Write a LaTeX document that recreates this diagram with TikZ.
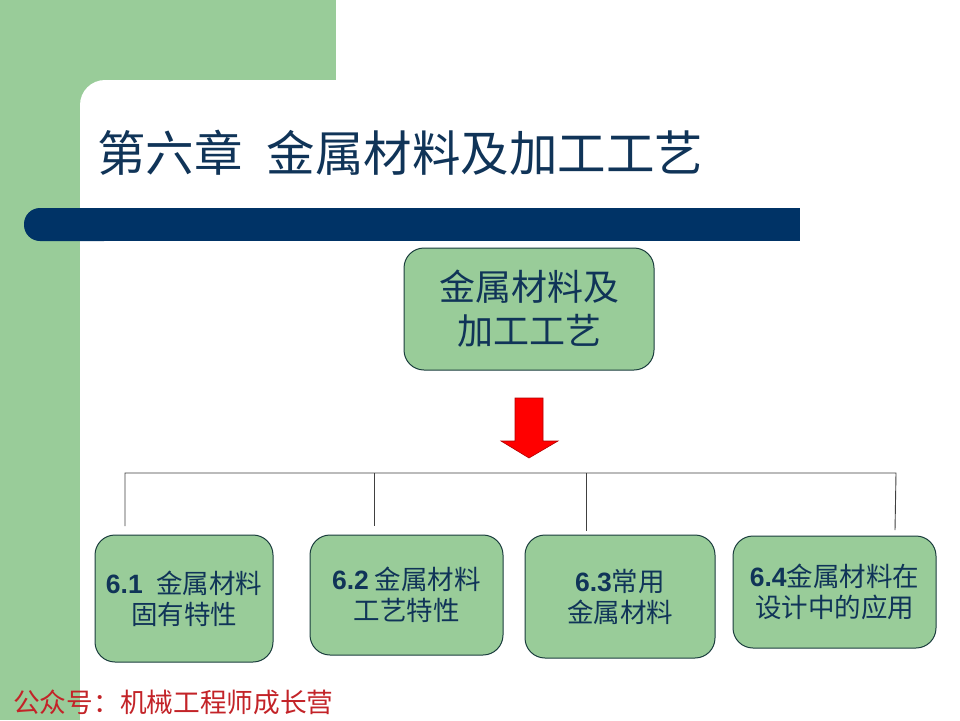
\documentclass[tikz,border=0pt]{standalone}
\usepackage{fontspec}
\setmainfont{Noto Sans CJK SC}
\newfontfamily\numfont{Liberation Sans}
\definecolor{bggreen}{RGB}{153,204,153}
\definecolor{boxgreen}{RGB}{153,204,153}
\definecolor{boxedge}{RGB}{26,61,61}
\definecolor{barblue}{RGB}{0,51,102}
\definecolor{txtblue}{RGB}{16,52,88}
\definecolor{footred}{RGB}{195,35,40}
\definecolor{arrowred}{RGB}{255,0,0}
\begin{document}
\begin{tikzpicture}[x=1pt,y=-1pt,
  gbox/.style={draw=boxedge,line width=1pt,fill=boxgreen,rounded corners=20pt,
    align=center,text=txtblue,inner sep=0pt,font=\fontsize{26.5}{31}\selectfont},
  busline/.style={draw=black!75,line width=0.9pt}]
\useasboundingbox (0,0) rectangle (960,720);
% background
\fill[bggreen] (0,0) rectangle (336,120);
\fill[bggreen] (0,0) rectangle (80,720);
\fill[white,rounded corners=25pt] (80,80) rectangle (1000,800);
\fill[white] (80,400) rectangle (960,720);
% blue bar
\fill[barblue,rounded corners=16pt] (24,208) rectangle (120,241);
\fill[barblue] (60,208) rectangle (800,241);
% title
\node[anchor=west,text=txtblue,inner sep=0pt,font=\fontsize{48.5}{52}\selectfont] (title) at (97,153)
  {第六章\hspace{0.5em}金属材料及加工工艺};
% top node
\node[gbox,minimum width=250pt,minimum height=122pt,font=\fontsize{36}{44}\selectfont] (top) at (529,309)
  {金属材料及\\加工工艺};
% red arrow
\fill[arrowred,draw=red!70!black,line width=0.6pt]
  (515,398) -- (543,398) -- (543,441) -- (558,441) -- (529,458) -- (501,441) -- (515,441) -- cycle;
% bottom boxes
\node[gbox,minimum width=178pt,minimum height=127pt] (b1) at (184,598.5)
  {{\numfont\bfseries 6.1}\hspace{0.5em}金属材料\\固有特性};
\node[gbox,minimum width=193pt,minimum height=120pt] (b2) at (406.5,595)
  {{\numfont\bfseries 6.2} 金属材料\\工艺特性};
\node[gbox,minimum width=190pt,minimum height=123pt] (b3) at (620,596.5)
  {{\numfont\bfseries 6.3}常用\\金属材料};
\node[gbox,minimum width=203pt,minimum height=112pt] (b4) at (834.5,592)
  {{\numfont\bfseries 6.4}金属材料在\\设计中的应用};
% bus
\coordinate (t1) at (125,473);
\coordinate (t2) at (374,473);
\coordinate (t3) at (586,473);
\coordinate (t4) at (896,473);
\coordinate (e1) at (125,526);
\coordinate (e2) at (374,526);
\coordinate (e3) at (586,531);
\coordinate (e4) at (895,530);
\draw[busline] (e1) -- (t1) -- (t4) -- (e4);
\draw[busline] (t2) -- (e2);
\draw[busline] (t3) -- (e3);
% footer
\node[anchor=west,text=footred,inner sep=0pt,font=\fontsize{26.7}{28}\selectfont] (foot) at (13,702)
  {公众号：机械工程师成长营};
\end{tikzpicture}
\end{document}
